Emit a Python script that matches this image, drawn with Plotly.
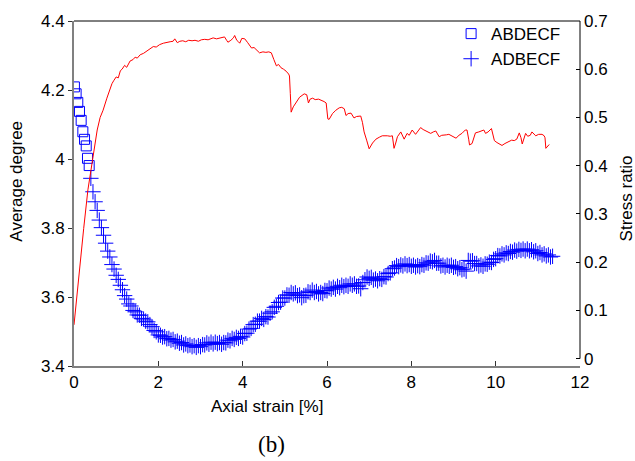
import plotly.graph_objects as go

# ---- data ----
sq_strain = [0.01, 0.05, 0.09, 0.13, 0.17, 0.21, 0.25, 0.29, 0.32, 0.36]
sq_degree = [4.209, 4.189, 4.164, 4.138, 4.112, 4.079, 4.057, 4.038, 4.002, 3.981]

plus_strain = [
    0.40, 0.45, 0.50, 0.55, 0.60, 0.65, 0.70, 0.75, 0.80, 0.85, 0.90, 0.95,
    1.00, 1.05, 1.10, 1.15, 1.20, 1.25, 1.30, 1.35, 1.40, 1.45, 1.50, 1.55,
    1.60, 1.65, 1.70, 1.75, 1.80, 1.85, 1.90, 1.95, 2.00, 2.05, 2.10, 2.15,
    2.20, 2.25, 2.30, 2.35, 2.40, 2.45, 2.50, 2.55, 2.60, 2.65, 2.70, 2.75,
    2.80, 2.85, 2.90, 2.95, 3.00, 3.05, 3.10, 3.15, 3.20, 3.25, 3.30, 3.35,
    3.40, 3.45, 3.50, 3.55, 3.60, 3.65, 3.70, 3.75, 3.80, 3.85, 3.90, 3.95,
    4.00, 4.05, 4.10, 4.15, 4.20, 4.25, 4.30, 4.35, 4.40, 4.45, 4.50, 4.55,
    4.60, 4.65, 4.70, 4.75, 4.80, 4.85, 4.90, 4.95, 5.00, 5.05, 5.10, 5.15,
    5.20, 5.25, 5.30, 5.35, 5.40, 5.45, 5.50, 5.55, 5.60, 5.65, 5.70, 5.75,
    5.80, 5.85, 5.90, 5.95, 6.00, 6.05, 6.10, 6.15, 6.20, 6.25, 6.30, 6.35,
    6.40, 6.45, 6.50, 6.55, 6.60, 6.65, 6.70, 6.75, 6.80, 6.85, 6.90, 6.95,
    7.00, 7.05, 7.10, 7.15, 7.20, 7.25, 7.30, 7.35, 7.40, 7.45, 7.50, 7.55,
    7.60, 7.65, 7.70, 7.75, 7.80, 7.85, 7.90, 7.95, 8.00, 8.05, 8.10, 8.15,
    8.20, 8.25, 8.30, 8.35, 8.40, 8.45, 8.50, 8.55, 8.60, 8.65, 8.70, 8.75,
    8.80, 8.85, 8.90, 8.95, 9.00, 9.05, 9.10, 9.15, 9.20, 9.25, 9.30, 9.35,
    9.40, 9.45, 9.50, 9.55, 9.60, 9.65, 9.70, 9.75, 9.80, 9.85, 9.90, 9.95,
    10.00, 10.05, 10.10, 10.15, 10.20, 10.25, 10.30, 10.35, 10.40, 10.45, 10.50, 10.55,
    10.60, 10.65, 10.70, 10.75, 10.80, 10.85, 10.90, 10.95, 11.00, 11.05, 11.10, 11.15,
    11.20, 11.25, 11.30, 11.35,
]
plus_degree = [
    3.944, 3.905, 3.876, 3.851, 3.823, 3.801, 3.779, 3.756, 3.733, 3.716, 3.694, 3.681,
    3.663, 3.651, 3.634, 3.621, 3.604, 3.594, 3.580, 3.574, 3.561, 3.557, 3.548, 3.547,
    3.538, 3.536, 3.530, 3.528, 3.520, 3.514, 3.503, 3.499, 3.490, 3.489, 3.484, 3.485,
    3.479, 3.480, 3.475, 3.477, 3.470, 3.472, 3.466, 3.468, 3.461, 3.464, 3.459, 3.461,
    3.456, 3.459, 3.454, 3.459, 3.456, 3.462, 3.461, 3.467, 3.463, 3.469, 3.464, 3.469,
    3.465, 3.468, 3.463, 3.468, 3.467, 3.475, 3.473, 3.480, 3.477, 3.483, 3.480, 3.486,
    3.484, 3.494, 3.495, 3.507, 3.509, 3.520, 3.521, 3.530, 3.530, 3.538, 3.535, 3.543,
    3.542, 3.553, 3.557, 3.570, 3.573, 3.584, 3.585, 3.597, 3.597, 3.606, 3.605, 3.613,
    3.609, 3.612, 3.604, 3.606, 3.598, 3.604, 3.605, 3.615, 3.613, 3.620, 3.613, 3.616,
    3.609, 3.613, 3.610, 3.619, 3.618, 3.626, 3.623, 3.628, 3.623, 3.631, 3.627, 3.634,
    3.630, 3.634, 3.631, 3.638, 3.634, 3.638, 3.631, 3.632, 3.624, 3.642, 3.650, 3.658,
    3.654, 3.657, 3.649, 3.652, 3.647, 3.653, 3.651, 3.659, 3.658, 3.668, 3.670, 3.682,
    3.684, 3.691, 3.688, 3.693, 3.690, 3.696, 3.691, 3.694, 3.689, 3.692, 3.687, 3.691,
    3.688, 3.694, 3.692, 3.699, 3.698, 3.704, 3.702, 3.706, 3.698, 3.698, 3.690, 3.692,
    3.687, 3.692, 3.689, 3.692, 3.686, 3.688, 3.682, 3.685, 3.679, 3.681, 3.675, 3.706,
    3.704, 3.705, 3.697, 3.697, 3.690, 3.693, 3.689, 3.696, 3.695, 3.701, 3.700, 3.709,
    3.711, 3.720, 3.719, 3.725, 3.722, 3.728, 3.726, 3.732, 3.730, 3.736, 3.733, 3.738,
    3.735, 3.739, 3.734, 3.739, 3.734, 3.737, 3.731, 3.734, 3.726, 3.729, 3.722, 3.725,
    3.719, 3.722, 3.716, 3.718,
]

ratio_strain = [
    0.00, 0.05, 0.12, 0.23, 0.33, 0.43, 0.50, 0.55, 0.62, 0.69, 0.78, 0.86, 0.90, 0.94,
    1.00, 1.05, 1.10, 1.14, 1.20, 1.25, 1.33, 1.40, 1.45, 1.50, 1.57, 1.65, 1.72, 1.80,
    1.88, 1.95, 2.03, 2.12, 2.20, 2.28, 2.35, 2.39, 2.45, 2.51, 2.58, 2.65, 2.72, 2.80,
    2.87, 2.95, 3.02, 3.10, 3.18, 3.25, 3.30, 3.38, 3.45, 3.52, 3.57, 3.62, 3.65, 3.72,
    3.78, 3.81, 3.86, 3.90, 3.93, 3.98, 4.05, 4.12, 4.17, 4.21, 4.27, 4.33, 4.40, 4.48,
    4.55, 4.62, 4.68, 4.74, 4.80, 4.85, 4.91, 4.97, 5.03, 5.09, 5.11, 5.13, 5.15, 5.20,
    5.27, 5.35, 5.46, 5.52, 5.56, 5.60, 5.66, 5.72, 5.80, 5.86, 5.93, 5.98, 6.02, 6.05,
    6.13, 6.21, 6.29, 6.35, 6.41, 6.45, 6.50, 6.57, 6.60, 6.64, 6.70, 6.80, 6.84, 6.88,
    6.94, 7.00, 7.08, 7.16, 7.24, 7.31, 7.43, 7.50, 7.55, 7.57, 7.59, 7.63, 7.67, 7.75,
    7.79, 7.83, 7.90, 7.95, 8.02, 8.06, 8.10, 8.16, 8.22, 8.28, 8.34, 8.40, 8.46, 8.52,
    8.58, 8.62, 8.66, 8.72, 8.77, 8.83, 8.89, 8.96, 9.02, 9.06, 9.13, 9.20, 9.28, 9.32,
    9.36, 9.38, 9.44, 9.48, 9.52, 9.60, 9.68, 9.72, 9.76, 9.82, 9.90, 9.94, 9.97, 10.03,
    10.10, 10.15, 10.22, 10.30, 10.38, 10.44, 10.50, 10.56, 10.60, 10.63, 10.67, 10.71,
    10.76, 10.82, 10.86, 10.89, 10.95, 11.02, 11.10, 11.15, 11.17, 11.19, 11.23, 11.27,
]
ratio_value = [
    0.070, 0.115, 0.180, 0.270, 0.350, 0.410, 0.450, 0.474, 0.500, 0.515, 0.540, 0.562, 0.570, 0.576,
    0.584, 0.582, 0.597, 0.600, 0.608, 0.604, 0.617, 0.620, 0.625, 0.623, 0.630, 0.633, 0.637, 0.643,
    0.647, 0.646, 0.651, 0.654, 0.656, 0.657, 0.658, 0.663, 0.655, 0.658, 0.659, 0.657, 0.660, 0.659,
    0.660, 0.658, 0.661, 0.662, 0.661, 0.664, 0.665, 0.663, 0.664, 0.666, 0.667, 0.660, 0.656, 0.660,
    0.665, 0.670, 0.660, 0.657, 0.654, 0.664, 0.663, 0.655, 0.648, 0.644, 0.645, 0.640, 0.634, 0.636,
    0.635, 0.636, 0.634, 0.620, 0.607, 0.610, 0.603, 0.600, 0.596, 0.590, 0.586, 0.550, 0.511, 0.522,
    0.532, 0.542, 0.549, 0.547, 0.530, 0.538, 0.540, 0.537, 0.538, 0.536, 0.533, 0.530, 0.497, 0.496,
    0.508, 0.515, 0.520, 0.521, 0.518, 0.504, 0.508, 0.509, 0.504, 0.499, 0.502, 0.503, 0.490, 0.470,
    0.453, 0.435, 0.447, 0.455, 0.459, 0.462, 0.462, 0.461, 0.462, 0.448, 0.436, 0.447, 0.460, 0.470,
    0.462, 0.455, 0.467, 0.463, 0.474, 0.470, 0.465, 0.472, 0.479, 0.475, 0.472, 0.470, 0.467, 0.470,
    0.472, 0.466, 0.460, 0.463, 0.463, 0.464, 0.465, 0.462, 0.459, 0.457, 0.463, 0.467, 0.474, 0.474,
    0.455, 0.443, 0.446, 0.460, 0.468, 0.470, 0.472, 0.474, 0.467, 0.470, 0.477, 0.465, 0.452, 0.448,
    0.444, 0.442, 0.446, 0.449, 0.453, 0.452, 0.455, 0.468, 0.458, 0.445, 0.458, 0.467,
    0.461, 0.463, 0.470, 0.467, 0.462, 0.465, 0.465, 0.462, 0.458, 0.436, 0.440, 0.444,
]

x_ticks = [0, 2, 4, 6, 8, 10, 12]
y_ticks = [3.4, 3.6, 3.8, 4.0, 4.2, 4.4]
y_tick_text = ["3.4", "3.6", "3.8", "4", "4.2", "4.4"]
y2_ticks = [0, 0.1, 0.2, 0.3, 0.4, 0.5, 0.6, 0.7]
y2_tick_text = ["0", "0.1", "0.2", "0.3", "0.4", "0.5", "0.6", "0.7"]

FONT = "Liberation Sans, Arial, Helvetica, sans-serif"
BLUE = "#0000ff"

fig = go.Figure()
fig.add_trace(go.Scatter(
    x=ratio_strain, y=ratio_value, yaxis="y2", mode="lines",
    line=dict(color="#ff0000", width=1), showlegend=False))
fig.add_trace(go.Scatter(
    x=sq_strain, y=sq_degree, mode="markers", name="ABDECF",
    marker=dict(symbol="square-open", size=10, color=BLUE, line=dict(width=1, color=BLUE))))
fig.add_trace(go.Scatter(
    x=plus_strain, y=plus_degree, mode="markers", name="ADBECF",
    marker=dict(symbol="cross-thin-open", size=11, color=BLUE, line=dict(width=1, color=BLUE))))

W, H = 635, 461
L, R, T, B = 73.6, 55, 16, 95
pw, ph = W - L - R, H - T - B

def px(xp):
    return (xp - L) / pw

def py(yp):
    return (H - B - yp) / ph

fig.update_layout(
    width=W, height=H,
    margin=dict(l=L, r=R, t=T, b=B, pad=0),
    paper_bgcolor="white", plot_bgcolor="white",
    font=dict(family=FONT, size=17, color="black"),
    xaxis=dict(range=[0, 12], tickvals=x_ticks, ticks="inside", ticklen=5,
               tickcolor="#333333", showline=True, linecolor="#808080", linewidth=2,
               showgrid=False, zeroline=False, mirror=False,
               tickfont=dict(size=17, family=FONT)),
    yaxis=dict(range=[3.4, 4.4], tickvals=y_ticks, ticktext=y_tick_text,
               ticks="outside", ticklen=4, tickcolor="#333333",
               showline=True, linecolor="#808080", linewidth=2,
               showgrid=False, zeroline=False, tickfont=dict(size=17, family=FONT)),
    yaxis2=dict(range=[-0.0153, 0.7], tickvals=y2_ticks, ticktext=y2_tick_text,
                overlaying="y", side="right", ticks="inside", ticklen=4, tickcolor="black",
                showline=False, showgrid=False, zeroline=False,
                tickfont=dict(size=17, family=FONT), ticklabelstandoff=3),
    legend=dict(x=px(451), y=py(11), xanchor="left", yanchor="top",
                bgcolor="rgba(0,0,0,0)", font=dict(size=17, family=FONT),
                tracegroupgap=0),
    shapes=[
        dict(type="line", xref="paper", yref="paper", x0=0, x1=1, y0=1, y1=1,
             line=dict(color="black", width=1)),
        dict(type="line", xref="paper", yref="y2", x0=1, x1=1, y0=0, y1=0.7,
             line=dict(color="black", width=1)),
    ],
    annotations=[
        dict(text="Average degree", xref="paper", yref="paper", x=px(16.5), y=py(178),
             textangle=-90, showarrow=False, xanchor="center", yanchor="middle",
             font=dict(size=17, family=FONT)),
        dict(text="Stress ratio", xref="paper", yref="paper", x=px(626), y=py(196),
             textangle=-90, showarrow=False, xanchor="center", yanchor="middle",
             font=dict(size=17, family=FONT)),
        dict(text="Axial strain [%]", xref="paper", yref="paper", x=px(267), y=py(407),
             showarrow=False, xanchor="center", yanchor="middle",
             font=dict(size=17, family=FONT)),
        dict(text="(b)", xref="paper", yref="paper", x=px(271), y=py(446),
             showarrow=False, xanchor="center", yanchor="middle",
             font=dict(size=23, family="Liberation Serif, DejaVu Serif, serif")),
    ],
)

fig.write_html("out.html")
